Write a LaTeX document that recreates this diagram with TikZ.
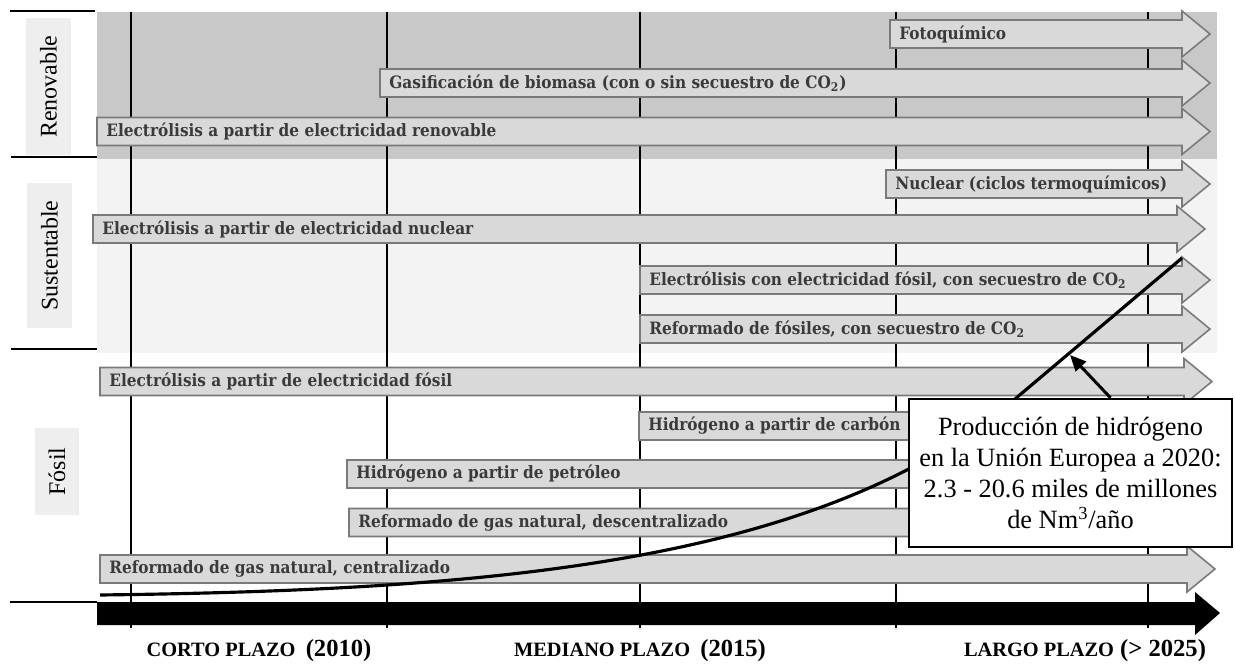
\documentclass[tikz,border=0pt]{standalone}
\usepackage{fontspec}
\setmainfont{Liberation Serif}
\newfontfamily\rotfont{DejaVu Serif Condensed}
\usetikzlibrary{arrows.meta, calc}

\definecolor{renov}{HTML}{C8C8C8}
\definecolor{susten}{HTML}{F3F3F3}
\definecolor{etiq}{HTML}{EEEEEE}
\definecolor{cuerpo}{HTML}{D9D9D9}
\definecolor{borde}{HTML}{7A7A7A}
\definecolor{letra}{HTML}{3A3A3A}

% nombre, inicio, punta, centro y, texto
\newcommand{\tecno}[5]{%
    \draw[flecha] (#2,#4-14) -- (#3-28,#4-14) -- (#3-28,#4-23) -- (#3,#4)
        -- (#3-28,#4+23) -- (#3-28,#4+14) -- (#2,#4+14) -- cycle;
    \node[rotulo] (#1) at (#2+9,#4) {#5};
}

\begin{document}
\begin{tikzpicture}[
                                x=0.02cm, y=-0.02cm,
                                flecha/.style={
                                    fill=cuerpo, draw=borde,
                                    line width=0.9pt
                                    },
                                rotulo/.style={
                                    anchor=west, inner sep=0pt, text=letra,
                                    font=\rotfont\bfseries\fontsize{9.7}{11}\selectfont
                                    },
                                sector/.style={
                                    fill=etiq, rotate=90, inner sep=0pt,
                                    minimum height=0.9cm,
                                    font=\fontsize{13.6}{15}\selectfont
                                    },
                                guia/.style={line width=1.1pt},
                                plazo/.style={font=\bfseries\fontsize{11.6}{13}\selectfont},
                                cuadro/.style={
                                    draw, line width=1.4pt, fill=white,
                                    minimum width=6.46cm, minimum height=2.96cm,
                                    align=center, inner sep=0pt,
                                    font=\fontsize{15}{17.6}\selectfont
                                    }
                                ]
    \useasboundingbox (0,0) rectangle (1235,669);
    % bandas
    \fill[renov] (97,12) rectangle (1217,159);
    \fill[susten] (97,159) rectangle (1217,353);
    \node[sector, minimum width=2.74cm] (renovable) at (48.5,86.5) {Renovable};
    \node[sector, minimum width=2.9cm] (sustentable) at (49.5,255.5) {Sustentable};
    \node[sector, minimum width=1.74cm] (fosil) at (57,471.5) {Fósil};
    \draw[guia] (10,11) -- (95,11);
    \draw[guia] (11,157) -- (97,157);
    \draw[guia] (11,349) -- (97,349);
    \draw[guia] (10,602) -- (97,602);
    \foreach \x in {131, 387, 640, 896, 1148}
        \draw[guia] (\x,12) -- (\x,628);
    % tecnologias
    \tecno{foto}{890}{1210}{34}{Fotoquímico}
    \tecno{gasif}{380}{1210}{83}{Gasificación de biomasa (con o sin secuestro de CO\textsubscript{2})}
    \tecno{elren}{97}{1210}{131.5}{Electrólisis a partir de electricidad renovable}
    \tecno{nuclear}{886}{1210}{184}{Nuclear (ciclos termoquímicos)}
    \tecno{elnuc}{93}{1205}{229}{Electrólisis a partir de electricidad nuclear}
    \tecno{elfosco}{640}{1210}{280}{Electrólisis con electricidad fósil, con secuestro de CO\textsubscript{2}}
    \tecno{refco}{640}{1210}{329}{Reformado de fósiles, con secuestro de CO\textsubscript{2}}
    \tecno{elfos}{100}{1212}{381.5}{Electrólisis a partir de electricidad fósil}
    \tecno{carbon}{639}{1210}{426}{Hidrógeno a partir de carbón}
    \tecno{petroleo}{347}{1210}{474}{Hidrógeno a partir de petróleo}
    \tecno{descen}{349}{1210}{522.5}{Reformado de gas natural, descentralizado}
    \tecno{centra}{100}{1215}{569}{Reformado de gas natural, centralizado}
    % produccion
    \draw[line width=1.8pt] (100,595) .. controls (500,590) and (820,562) .. (1015,399) -- (1182,258);
    \node[cuadro] (cuadro) at (1070.5,473) {Producción de hidrógeno\\
        en la Unión Europea a 2020:\\ 2.3 - 20.6 miles de millones\\ de Nm\textsuperscript{3}/año};
    \coordinate (curva) at (1070,355);
    \draw[line width=1.7pt, -{Triangle[length=3.2mm, width=2.8mm]}] ($(cuadro.north)+(40,0)$) -- (curva);
    % eje de tiempo
    \fill (97,602) -- (1195,602) -- (1195,592) -- (1220,613) -- (1195,635) -- (1195,625) -- (97,625) -- cycle;
    \node[plazo] (corto) at (259,651) {CORTO PLAZO\hspace{0.5em}{\fontsize{14}{15}\selectfont(2010)}};
    \node[plazo] (mediano) at (640,651) {MEDIANO PLAZO\hspace{0.5em}{\fontsize{14}{15}\selectfont(2015)}};
    \node[plazo] (largo) at (1085,651) {LARGO PLAZO\hspace{0.3em}{\fontsize{14}{15}\selectfont(> 2025)}};
\end{tikzpicture}
\end{document}
